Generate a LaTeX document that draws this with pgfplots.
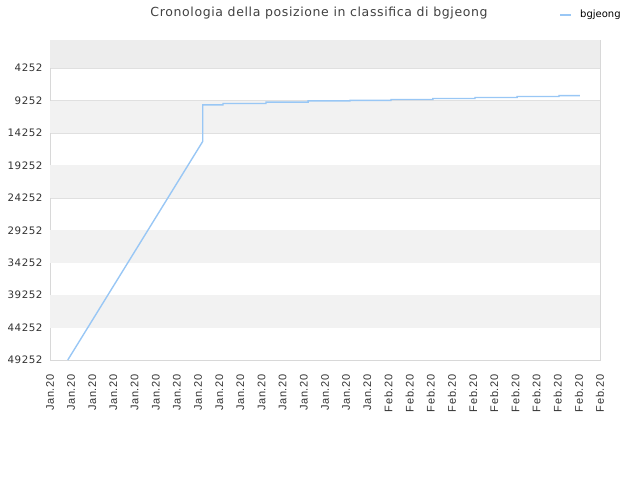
\documentclass[border=0pt]{standalone}
\usepackage{pgfplots}
\pgfplotsset{compat=1.18}
\usepackage{fontspec}
\setmainfont{DejaVu Sans}
\newfontfamily\spfont[LetterSpace=5]{DejaVu Sans}
\newfontfamily\xfont[LetterSpace=6]{Liberation Sans}
\definecolor{linec}{RGB}{153,199,245}
\definecolor{bandA}{RGB}{237,237,237}
\definecolor{bandB}{RGB}{242,242,242}
\definecolor{gridc}{RGB}{224,224,224}
\definecolor{framec}{RGB}{216,216,216}
\begin{document}
\begin{tikzpicture}[x=1pt,y=1pt]
\path[use as bounding box] (0,0) rectangle (640,480);
\begin{axis}[
  at={(50pt,120pt)}, anchor=south west,
  scale only axis, width=550pt, height=320pt,
  xmin=0, xmax=26, ymin=-100, ymax=49252,
  y dir=reverse,
  scaled y ticks=false,
  xtick={0,...,26},
  xticklabels={Jan.20,Jan.20,Jan.20,Jan.20,Jan.20,Jan.20,Jan.20,Jan.20,Jan.20,Jan.20,Jan.20,Jan.20,Jan.20,Jan.20,Jan.20,Jan.20,Feb.20,Feb.20,Feb.20,Feb.20,Feb.20,Feb.20,Feb.20,Feb.20,Feb.20,Feb.20,Feb.20},
  ytick={4252,9252,14252,19252,24252,29252,34252,39252,44252,49252},
  yticklabels={4252,9252,14252,19252,24252,29252,34252,39252,44252,49252},
  major tick length=0pt,
  ymajorgrids, major grid style={gridc, line width=0.8pt},
  axis line style={framec, line width=0.8pt},
  xticklabel style={font=\xfont\fontsize{11}{12}\selectfont, text=black!80, rotate=90, anchor=east, xshift=-11pt},
  yticklabel style={font=\spfont\fontsize{10.3}{12}\selectfont, text=black!80, xshift=-4pt},
  clip=true,
]
\fill[bandA] (axis cs:0,-100) rectangle (axis cs:26,4252);
\fill[bandB] (axis cs:0,9252) rectangle (axis cs:26,14252);
\fill[bandB] (axis cs:0,19252) rectangle (axis cs:26,24252);
\fill[bandB] (axis cs:0,29252) rectangle (axis cs:26,34252);
\fill[bandB] (axis cs:0,39252) rectangle (axis cs:26,44252);
\addplot[linec, line width=1.4pt] coordinates {
(0.84,49252) (7.22,15540) (7.22,9900) (8.18,9900) (8.18,9700) (10.21,9700)
(10.21,9490) (12.2,9490) (12.2,9290) (14.18,9290) (14.18,9200) (16.12,9200)
(16.12,9070) (18.1,9070) (18.1,8920) (20.09,8920) (20.09,8770) (22.08,8770)
(22.08,8620) (24.06,8620) (24.06,8470) (25.05,8470)
};
\end{axis}
\node[text=black!75, font=\spfont\fontsize{12.5}{14}\selectfont] at (319,467) {Cronologia della posizione in classifica di bgjeong};
\draw[linec, line width=1.4pt] (560,465) -- (571,465);
\node[anchor=west, font=\fontsize{10}{12}\selectfont, inner sep=0pt] at (580,465) {bgjeong};
\end{tikzpicture}
\end{document}
